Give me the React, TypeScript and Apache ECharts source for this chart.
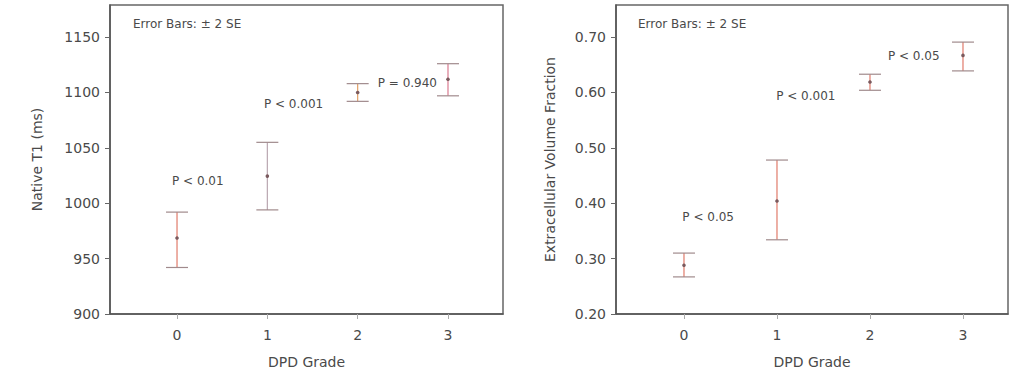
import React, { useEffect, useRef } from "react";
import * as echarts from "echarts";

const grades = [0, 1, 2, 3];
const gradeLabels = ["0", "1", "2", "3"];

const t1Mean = [968.6, 1024.5, 1100, 1112];
const t1Low = [942, 994, 1092, 1097];
const t1High = [992, 1055, 1108, 1126];
const t1Ticks = [900, 950, 1000, 1050, 1100, 1150];

const ecvMean = [0.288, 0.404, 0.619, 0.667];
const ecvLow = [0.267, 0.334, 0.604, 0.639];
const ecvHigh = [0.31, 0.478, 0.633, 0.691];
const ecvTicks = [0.2, 0.3, 0.4, 0.5, 0.6, 0.7];

const t1PLabels = ["P < 0.01", "P < 0.001", "P = 0.940"];
const t1PX = [0.23, 1.29, 2.55];
const t1PY = [1020, 1090, 1109];

const ecvPLabels = ["P < 0.05", "P < 0.001", "P < 0.05"];
const ecvPX = [0.26, 1.31, 2.47];
const ecvPY = [0.375, 0.593, 0.666];

const t1Colors = ["#e07a6a", "#b9a6b0", "#e3a065", "#d97a90"];
const ecvColors = ["#e07a6a", "#e07a6a", "#e07a6a", "#e07a6a"];

const FONT = "DejaVu Sans";
const TEXT = "#4a4a4a";

function errorSeries(xi: number, low: number[], high: number[], mean: number[], colors: string[]) {
  return {
    type: "custom",
    xAxisIndex: xi,
    yAxisIndex: xi,
    data: grades.map((g, i) => [g, low[i], high[i], mean[i]]),
    renderItem: (params: any, api: any) => {
      const x = api.value(0);
      const pLo = api.coord([x, api.value(1)]);
      const pHi = api.coord([x, api.value(2)]);
      const pM = api.coord([x, api.value(3)]);
      const c = colors[params.dataIndex];
      const hw = 11;
      const cap = "#a08a8c";
      return {
        type: "group",
        children: [
          { type: "line", shape: { x1: pHi[0], y1: pHi[1], x2: pLo[0], y2: pLo[1] }, style: { stroke: c, lineWidth: 1.2 } },
          { type: "line", shape: { x1: pHi[0] - hw, y1: pHi[1], x2: pHi[0] + hw, y2: pHi[1] }, style: { stroke: cap, lineWidth: 1.2 } },
          { type: "line", shape: { x1: pLo[0] - hw, y1: pLo[1], x2: pLo[0] + hw, y2: pLo[1] }, style: { stroke: cap, lineWidth: 1.2 } },
          { type: "circle", shape: { cx: pM[0], cy: pM[1], r: 1.8 }, style: { fill: "#7a5a5e" } },
        ],
      };
    },
    z: 3,
  };
}

function labelSeries(xi: number, labels: string[], xs: number[], ys: number[]) {
  return {
    type: "custom",
    xAxisIndex: xi,
    yAxisIndex: xi,
    data: labels.map((l, i) => [xs[i], ys[i]]),
    renderItem: (params: any, api: any) => {
      const p = api.coord([api.value(0), api.value(1)]);
      return {
        type: "text",
        x: p[0],
        y: p[1],
        style: {
          text: labels[params.dataIndex],
          fill: TEXT,
          fontFamily: FONT,
          fontSize: 12,
          align: "center",
          verticalAlign: "middle",
        },
      };
    },
    z: 4,
  };
}

function xAxisDef(gi: number, min: number, max: number) {
  return {
    type: "value",
    gridIndex: gi,
    min,
    max,
    name: "DPD Grade",
    nameLocation: "middle",
    nameGap: 41,
    nameTextStyle: { color: TEXT, fontFamily: FONT, fontSize: 14 },
    axisLine: { show: true, onZero: false, lineStyle: { color: "#555", width: 1.5 } },
    axisTick: { show: true, customValues: grades, length: 5, lineStyle: { color: "#aaa" } },
    axisLabel: {
      customValues: grades,
      formatter: (v: number) => gradeLabels[grades.indexOf(v)] ?? "",
      color: TEXT,
      fontFamily: FONT,
      fontSize: 14,
      margin: 14,
    },
    splitLine: { show: false },
  };
}

function yAxisDef(gi: number, min: number, max: number, ticks: number[], name: string, gap: number, dec: number) {
  return {
    type: "value",
    gridIndex: gi,
    min,
    max,
    name,
    nameLocation: "middle",
    nameGap: gap,
    nameTextStyle: { color: TEXT, fontFamily: FONT, fontSize: 14 },
    axisLine: { show: true, onZero: false, lineStyle: { color: "#555", width: 1.5 } },
    axisTick: { show: true, customValues: ticks, length: 5, lineStyle: { color: "#666" } },
    axisLabel: {
      customValues: ticks,
      formatter: (v: number) => v.toFixed(dec),
      color: TEXT,
      fontFamily: FONT,
      fontSize: 14,
      margin: 10,
    },
    splitLine: { show: false },
  };
}

export default function App() {
  const ref = useRef<HTMLDivElement>(null);
  useEffect(() => {
    if (!ref.current) return;
    const chart = echarts.init(ref.current, undefined, { renderer: "svg" });
    chart.setOption({
      animation: false,
      backgroundColor: "#fff",
      grid: [
        { left: 110, top: 5, width: 393, height: 309, show: true, borderColor: "#666", borderWidth: 1.5, backgroundColor: "#fff" },
        { left: 616, top: 5, width: 392, height: 309, show: true, borderColor: "#666", borderWidth: 1.5, backgroundColor: "#fff" },
      ],
      xAxis: [xAxisDef(0, -0.742, 3.609), xAxisDef(1, -0.731, 3.484)],
      yAxis: [
        yAxisDef(0, 900, 1179, t1Ticks, "Native T1 (ms)", 66, 0),
        yAxisDef(1, 0.2, 0.758, ecvTicks, "Extracellular Volume Fraction", 59, 2),
      ],
      graphic: [
        { type: "text", left: 133, top: 18, style: { text: "Error Bars: ± 2 SE", fill: TEXT, font: `12px "${FONT}"` } },
        { type: "text", left: 638, top: 18, style: { text: "Error Bars: ± 2 SE", fill: TEXT, font: `12px "${FONT}"` } },
      ],
      series: [
        errorSeries(0, t1Low, t1High, t1Mean, t1Colors),
        errorSeries(1, ecvLow, ecvHigh, ecvMean, ecvColors),
        labelSeries(0, t1PLabels, t1PX, t1PY),
        labelSeries(1, ecvPLabels, ecvPX, ecvPY),
      ],
    });
    return () => chart.dispose();
  }, []);
  return <div ref={ref} style={{ position: "absolute", left: 0, top: 0, width: 1012, height: 378 }} />;
}
